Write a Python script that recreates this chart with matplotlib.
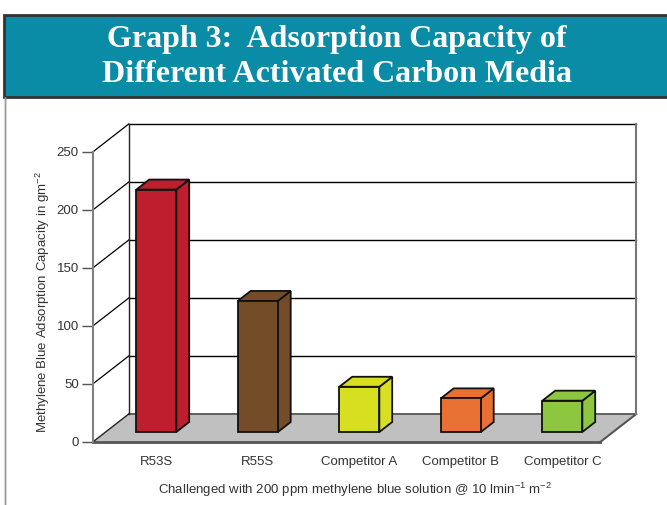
import numpy as np
import matplotlib.pyplot as plt
from matplotlib.patches import Polygon, Rectangle

plt.rcParams['font.family'] = ['Liberation Sans', 'DejaVu Sans']
plt.rcParams['mathtext.fontset'] = 'custom'
plt.rcParams['mathtext.rm'] = 'Liberation Sans'
plt.rcParams['mathtext.it'] = 'Liberation Sans:italic'
plt.rcParams['mathtext.bf'] = 'Liberation Sans:bold'
plt.rcParams['mathtext.default'] = 'regular'

## Datos
categorias = ["R53S", "R55S", "Competitor A", "Competitor B", "Competitor C"]
capacidad = [209, 113, 39, 29, 27]
colores = ["#be1e2d", "#744c28", "#d8df21", "#e87033", "#8dc63f"]
yticks = [0, 50, 100, 150, 200, 250]

titulo = ["Graph 3:  Adsorption Capacity of", "Different Activated Carbon Media"]
ylabel = "Methylene Blue Adsorption Capacity in gm$^{-2}$"
xlabel = "Challenged with 200 ppm methylene blue solution @ 10 lmin$^{-1}$ m$^{-2}$"

#***************************************************************
## Figura y banda del titulo
W, H = 667, 505
fig = plt.figure(figsize=(W / 100, H / 100), dpi=100)

fig.patches.append(Rectangle((4 / W, 1 - 97 / H), 700 / W, 82 / H, transform=fig.transFigure,
                             facecolor="#0a8ba6", edgecolor="#333333", lw=2))
fig.patches.append(Rectangle((5 / W, -0.01), 0.0, 1 - 97 / H + 0.01, transform=fig.transFigure,
                             facecolor="none", edgecolor="#999999", lw=1))
fig.text(337 / W, 1 - 40 / H, titulo[0], ha="center", va="center", color="white",
         fontsize=23, fontweight="bold", family="Liberation Serif")
fig.text(337 / W, 1 - 75 / H, titulo[1], ha="center", va="center", color="white",
         fontsize=23, fontweight="bold", family="Liberation Serif")

#***************************************************************
## Ejes (plano frontal)
ax = fig.add_axes([92.75 / W, 63 / H, 507.5 / W, 290 / H])
x0, x1 = -0.5, len(categorias) - 0.5
ax.set_xlim(x0, x1)
ax.set_ylim(0, 250)

DX = 36 / 101.5      # profundidad en unidades de categoria
DY = 28 / 1.16       # profundidad en unidades de valor
f0, f1 = 0.357, 0.714
HW = 0.197

# piso
ax.add_patch(Polygon([(x0, 0), (x1, 0), (x1 + DX, DY), (x0 + DX, DY)], closed=True,
                     facecolor="#c0c0c0", edgecolor="none", clip_on=False, zorder=1))
ax.plot([x0, x1], [0, 0], color="#555555", lw=2, clip_on=False, zorder=2)
ax.plot([x1, x1 + DX], [0, DY], color="#555555", lw=1.5, clip_on=False, zorder=2)
ax.plot([x0 + DX, x1 + DX], [DY, DY], color="#555555", lw=1.3, clip_on=False, zorder=2)
ax.plot([x0, x0 + DX], [0, DY], color="#222222", lw=1, clip_on=False, zorder=2)

# paredes y cuadricula
for t in yticks[1:]:
    ax.plot([x0 + DX, x1 + DX], [t + DY, t + DY], color="black", lw=1, clip_on=False, zorder=2)
    ax.plot([x0, x0 + DX], [t, t + DY], color="black", lw=0.9, clip_on=False, zorder=2)
ax.plot([x0 + DX, x0 + DX], [DY, 250 + DY], color="#222222", lw=1, clip_on=False, zorder=2)
ax.plot([x1 + DX, x1 + DX], [DY, 250 + DY], color="#777777", lw=1.5, clip_on=False, zorder=2)

# barras 3D
for i, (v, c) in enumerate(zip(capacidad, colores)):
    bx0 = i - HW + f0 * DX
    bx1 = i + HW + f0 * DX
    by0 = f0 * DY
    top = v + by0
    ddx, ddy = (f1 - f0) * DX, (f1 - f0) * DY
    kw = dict(closed=True, facecolor=c, edgecolor="#111111", lw=1.3, clip_on=False, zorder=5)
    ax.add_patch(Polygon([(bx1, by0), (bx1 + ddx, by0 + ddy), (bx1 + ddx, top + ddy), (bx1, top)], **kw))
    ax.add_patch(Polygon([(bx0, top), (bx1, top), (bx1 + ddx, top + ddy), (bx0 + ddx, top + ddy)], **kw))
    ax.add_patch(Polygon([(bx0, by0), (bx1, by0), (bx1, top), (bx0, top)], **kw))

#***************************************************************
## Etiquetas
for s in ["top", "right", "bottom"]:
    ax.spines[s].set_visible(False)
ax.spines["left"].set_color("#808080")
ax.spines["left"].set_linewidth(1.5)
ax.set_yticks(yticks)
ax.tick_params(axis="y", length=8, width=1, color="#555555", labelcolor="#333333",
               labelsize=9.5, pad=2)
ax.set_xticks(np.arange(len(categorias)) + f0 * DX, labels=categorias)
ax.tick_params(axis="x", length=0, labelcolor="#333333", labelsize=9.5, pad=10)

ax.set_ylabel(ylabel, fontsize=9.5, color="#333333", va="center")
ax.yaxis.set_label_coords((43 - 92.75) / 507.5, (442 - 302) / 290)
ax.set_xlabel(xlabel, fontsize=9.5, color="#333333", va="center")
ax.xaxis.set_label_coords((355 - 92.75) / 507.5, (442 - 490) / 290)

fig.savefig("out.png", dpi=100)
